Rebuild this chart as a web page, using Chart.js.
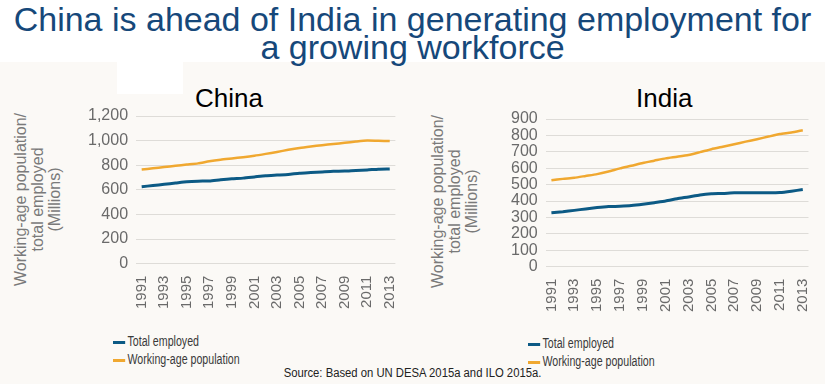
<!DOCTYPE html>
<html>
<head>
<meta charset="utf-8">
<script src="https://cdn.jsdelivr.net/npm/chart.js@4"></script>
<style>
  body { margin: 0; width: 825px; height: 384px; background: #fbf9f6; position: relative; overflow: hidden; font-family: "Liberation Sans", Arial, sans-serif; }
  .title { position: absolute; left: 0; top: 0; width: 825px; height: 62px; background: #fff; color: #16487a; font-size: 34px; line-height: 28px; text-align: center; padding-top: 5px; box-sizing: border-box; white-space: nowrap; }
  .box { position: absolute; left: 117px; top: 62px; width: 66px; height: 32px; background: #fff; }
  .country { position: absolute; font-size: 26px; color: #000; top: 83px; }
  .wrap { position: absolute; top: 60px; }
  .ytitle { position: absolute; width: 200px; margin-left: -100px; text-align: center; font-size: 16px; line-height: 17px; color: #7a7a7a; transform: rotate(-90deg); white-space: nowrap; }
  .legend { position: absolute; font-size: 14px; color: #3a3a3a; line-height: 18px; transform: scaleX(0.76); transform-origin: 0 0; white-space: nowrap; }
  .legend span { display: inline-block; width: 16px; height: 3px; margin-right: 3px; vertical-align: middle; }
  .source { position: absolute; left: 0; width: 825px; top: 366px; text-align: center; font-size: 12px; color: #222; transform: scaleX(0.94); }
</style>
</head>
<body>
<div class="title">China is ahead of India in generating employment for<br>a growing workforce</div>
<div class="box"></div>
<div class="country" style="left:195px">China</div>
<div class="country" style="left:636px">India</div>
<div class="ytitle" style="left:37px; top:174px">Working-age population/<br>total employed<br>(Millions)</div>
<div class="ytitle" style="left:454px; top:176px">Working-age population/<br>total employed<br>(Millions)</div>
<div class="wrap" style="left:0; width:412px; height:255px"><canvas id="chinaChart"></canvas></div>
<div class="wrap" style="left:415px; width:410px; height:258px"><canvas id="indiaChart"></canvas></div>
<div class="legend" style="left:113px; top:332px"><span style="background:#0c5a85"></span>Total employed<br><span style="background:#f0a830"></span>Working-age population</div>
<div class="legend" style="left:528px; top:334px"><span style="background:#0c5a85"></span>Total employed<br><span style="background:#f0a830"></span>Working-age population</div>
<div class="source">Source: Based on UN DESA 2015a and ILO 2015a.</div>
<script>
const years = [1991, 1992, 1993, 1994, 1995, 1996, 1997, 1998, 1999, 2000, 2001, 2002,
  2003, 2004, 2005, 2006, 2007, 2008, 2009, 2010, 2011, 2012, 2013];
const chinaEmployed = [625, 635, 645, 655, 665, 670, 672, 682, 690, 695, 705, 715,
  720, 725, 735, 740, 745, 750, 752, 758, 762, 768, 770];
const chinaWorkingAge = [765, 775, 785, 795, 805, 815, 832, 845, 855, 865, 877, 892,
  908, 925, 940, 952, 963, 972, 982, 992, 1000, 998, 997];
const indiaEmployed = [329, 335, 343, 352, 360, 366, 368, 372, 380, 390, 400, 414,
  425, 437, 444, 446, 450, 450, 450, 450, 452, 460, 470];
const indiaWorkingAge = [526, 535, 542, 553, 564, 580, 599, 615, 632, 646, 660, 670,
  681, 698, 716, 731, 746, 762, 777, 793, 808, 818, 832];

function makeChart(id, employed, working, max, step, pad) {
    const ctx = document.getElementById(id).getContext('2d');
    return new Chart(ctx, {
        type: 'line',
        data: {
            labels: years,
            datasets: [
                { label: 'Total employed', data: employed, borderColor: '#0c5a85', borderWidth: 3, pointRadius: 0, tension: 0.2, fill: false },
                { label: 'Working-age population', data: working, borderColor: '#f0a830', borderWidth: 2.5, pointRadius: 0, tension: 0.2, fill: false }
            ]
        },
        options: {
            responsive: true,
            maintainAspectRatio: false,
            animation: false,
            layout: { padding: pad },
            plugins: { legend: { display: false }, tooltip: { enabled: false } },
            scales: {
                x: {
                    offset: true,
                    grid: { display: false },
                    border: { display: false },
                    ticks: {
                        autoSkip: false, minRotation: 90, maxRotation: 90, color: '#6a6a6a',
                        font: { family: 'Liberation Sans', size: 15 }, padding: 4,
                        callback: function (v, i) { return i % 2 === 0 ? this.getLabelForValue(v) : ''; }
                    }
                },
                y: {
                    min: 0, max: max,
                    grid: { color: '#dedcd8', drawTicks: false },
                    border: { display: false },
                    ticks: { stepSize: step, autoSkip: false, color: '#6a6a6a', font: { family: 'Liberation Sans', size: 16 }, padding: 8 }
                }
            }
        }
    });
}

makeChart('chinaChart', chinaEmployed, chinaWorkingAge, 1200, 200, { left: 80, right: 12, top: 56, bottom: 2 });
makeChart('indiaChart', indiaEmployed, indiaWorkingAge, 900, 100, { left: 88, right: 10, top: 59, bottom: 2 });
</script>
</body>
</html>
